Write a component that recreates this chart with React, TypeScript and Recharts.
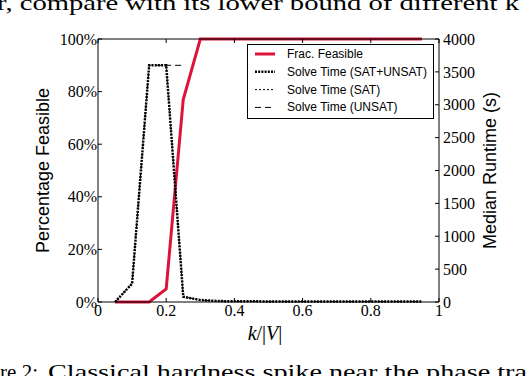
import React from 'react';
import { ComposedChart, Line, XAxis, YAxis, Label } from 'recharts';

// ---- data ----
const K_VALUES = [0.05, 0.1, 0.15, 0.2, 0.25, 0.3, 0.35, 0.4, 0.45, 0.5, 0.55, 0.6, 0.65, 0.7, 0.75, 0.8, 0.85, 0.9, 0.95];
const FRAC_FEASIBLE = [0, 0, 0, 5, 77, 100, 100, 100, 100, 100, 100, 100, 100, 100, 100, 100, 100, 100, 100];
const SOLVE_ALL = [0, 280, 3600, 3600, 80, 30, 15, 10, 10, 9, 9, 8, 8, 8, 8, 8, 8, 8, 8];
const SOLVE_SAT = [null, null, null, 3600, 80, 30, 15, 10, 10, 9, 9, 8, 8, 8, 8, 8, 8, 8, 8];
const SOLVE_UNSAT = [0, 280, 3600, 3600, 3600, null, null, null, null, null, null, null, null, null, null, null, null, null, null];

const X_TICKS = [0, 0.2, 0.4, 0.6, 0.8, 1];
const LEFT_TICKS = [0, 20, 40, 60, 80, 100];
const RIGHT_TICKS = [0, 500, 1000, 1500, 2000, 2500, 3000, 3500, 4000];

const SERIES_NAMES = ['Frac. Feasible', 'Solve Time (SAT+UNSAT)', 'Solve Time (SAT)', 'Solve Time (UNSAT)'];

const rows = K_VALUES.map((k, i) => ({
  k,
  frac: FRAC_FEASIBLE[i],
  all: SOLVE_ALL[i],
  sat: SOLVE_SAT[i],
  unsat: SOLVE_UNSAT[i],
}));

const RED = '#DC143C';
const SERIF = '"Liberation Serif", "DejaVu Serif", serif';
const SANS = '"Liberation Sans", Arial, sans-serif';

const STYLES = [
  { key: 'frac', color: RED, width: 3, dash: undefined as string | undefined },
  { key: 'all', color: '#000', width: 2.5, dash: '2 1.2' },
  { key: 'sat', color: '#000', width: 1, dash: '2 2' },
  { key: 'unsat', color: '#000', width: 1, dash: '6 4' },
];

const tickStyle = { fontFamily: SERIF, fontSize: 16, fill: '#000' };

export default function App() {
  return (
    <div style={{ position: 'absolute', left: 0, top: 0, width: 530, height: 376, background: '#fff', overflow: 'hidden' }}>
      <ComposedChart width={530} height={376} data={rows} margin={{ top: 38, right: 41, bottom: 44, left: 48 }}>
        <XAxis
          xAxisId="bottom"
          dataKey="k"
          type="number"
          domain={[0, 1]}
          ticks={X_TICKS}
          height={30}
          tickSize={-4}
          tickMargin={7}
          tick={tickStyle}
          axisLine={{ stroke: '#000' }}
          tickLine={{ stroke: '#000' }}
          interval={0}
        >
          <Label
            content={() => (
              <text x={265} y={340} textAnchor="middle" fontFamily={SERIF} fontSize={20} fill="#000">
                <tspan fontStyle="italic">k</tspan>
                <tspan>/|</tspan>
                <tspan fontStyle="italic">V</tspan>
                <tspan>|</tspan>
              </text>
            )}
          />
        </XAxis>
        <XAxis
          xAxisId="top"
          orientation="top"
          dataKey="k"
          type="number"
          domain={[0, 1]}
          ticks={X_TICKS}
          height={1}
          tickSize={-4}
          tickFormatter={() => ''}
          axisLine={{ stroke: '#000' }}
          tickLine={{ stroke: '#000' }}
          interval={0}
        />
        <YAxis
          yAxisId="left"
          orientation="left"
          domain={[0, 100]}
          ticks={LEFT_TICKS}
          width={50}
          tickSize={-4}
          tickMargin={5}
          tick={tickStyle}
          tickFormatter={(v: number) => `${v}%`}
          axisLine={{ stroke: '#000' }}
          tickLine={{ stroke: '#000' }}
          interval={0}
        >
          <Label
            content={() => (
              <text
                x={43}
                y={170.5}
                transform="rotate(-90, 43, 170.5)"
                textAnchor="middle"
                dominantBaseline="central"
                fontFamily={SANS}
                fontSize={18}
                fill="#000"
              >
                Percentage Feasible
              </text>
            )}
          />
        </YAxis>
        <YAxis
          yAxisId="right"
          orientation="right"
          domain={[0, 4000]}
          ticks={RIGHT_TICKS}
          width={50}
          tickSize={-4}
          tickMargin={8}
          tick={tickStyle}
          axisLine={{ stroke: '#000' }}
          tickLine={{ stroke: '#000' }}
          interval={0}
        >
          <Label
            content={() => (
              <text
                x={490}
                y={170.5}
                transform="rotate(-90, 490, 170.5)"
                textAnchor="middle"
                dominantBaseline="central"
                fontFamily={SANS}
                fontSize={18}
                fill="#000"
              >
                Median Runtime (s)
              </text>
            )}
          />
        </YAxis>
        {STYLES.map((s, i) => (
          <Line
            key={s.key}
            xAxisId="bottom"
            yAxisId={i === 0 ? 'left' : 'right'}
            dataKey={s.key}
            name={SERIES_NAMES[i]}
            type="linear"
            stroke={s.color}
            strokeWidth={s.width}
            strokeDasharray={s.dash}
            dot={false}
            activeDot={false}
            isAnimationActive={false}
          />
        ))}
      </ComposedChart>
      <svg width={530} height={376} style={{ position: 'absolute', left: 0, top: 0, pointerEvents: 'none' }}>
        <text x={-3} y={9.5} fontFamily={SERIF} fontSize={21} fill="#000" textLength={522} lengthAdjust="spacingAndGlyphs">
          r, compare with its lower bound of different k
        </text>
        <text x={38} y={379} textAnchor="end" fontFamily={SERIF} fontSize={21} fill="#000">ure 2:</text>
        <text x={48} y={379} fontFamily={SERIF} fontSize={21} fill="#000" textLength={479} lengthAdjust="spacingAndGlyphs">
          Classical hardness spike near the phase tra
        </text>
        <rect x={247.5} y={44.5} width={186} height={74} fill="#fff" stroke="#000" strokeWidth={1} />
        {STYLES.map((s, i) => (
          <g key={s.key}>
            <line
              x1={255}
              x2={275}
              y1={54 + i * 17.8}
              y2={54 + i * 17.8}
              stroke={s.color}
              strokeWidth={s.width}
              strokeDasharray={s.dash}
            />
            <text x={287} y={54 + i * 17.8} dominantBaseline="central" fontFamily={SANS} fontSize={12} fill="#000">
              {SERIES_NAMES[i]}
            </text>
          </g>
        ))}
      </svg>
    </div>
  );
}
